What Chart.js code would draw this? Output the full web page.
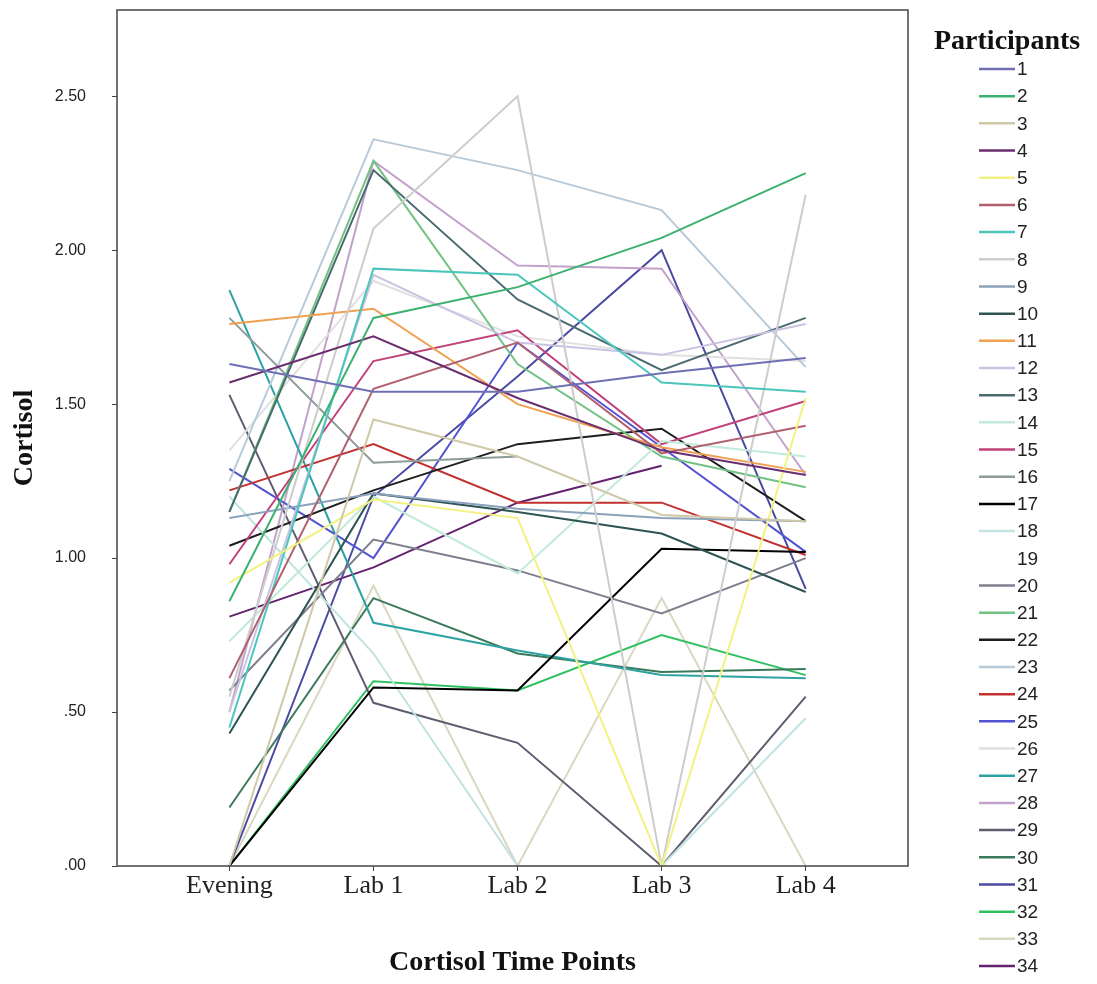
<!DOCTYPE html>
<html>
<head>
<meta charset="utf-8">
<script src="https://cdn.jsdelivr.net/npm/chart.js@4/dist/chart.umd.min.js"></script>
<style>
  html, body { margin: 0; padding: 0; background: #fff; }
  #wrap { width: 1097px; height: 984px; position: relative; }
</style>
</head>
<body>
<div id="wrap"><canvas id="grafico"></canvas></div>
<script>
// categorias do eixo X
const momentos = ['Evening', 'Lab 1', 'Lab 2', 'Lab 3', 'Lab 4'];

// ticks do eixo Y
const ticksY = [0, 0.5, 1.0, 1.5, 2.0, 2.5];
const rotulosY = ['.00', '.50', '1.00', '1.50', '2.00', '2.50'];

// valores de cortisol por participante (Evening, Lab 1, Lab 2, Lab 3, Lab 4)
const p1  = [1.63, 1.54, 1.54, 1.60, 1.65];
const p2  = [0.86, 1.78, 1.88, 2.04, 2.25];
const p3  = [0.00, 1.45, 1.33, 1.14, 1.12];
const p4  = [1.57, 1.72, 1.52, 1.35, 1.27];
const p5  = [0.92, 1.19, 1.13, 0.00, 1.52];
const p6  = [0.61, 1.55, 1.70, 1.34, 1.43];
const p7  = [0.45, 1.94, 1.92, 1.57, 1.54];
const p8  = [0.55, 2.07, 2.50, 0.00, 2.18];
const p9  = [1.13, 1.21, 1.16, 1.13, 1.12];
const p10 = [0.43, 1.21, 1.15, 1.08, 0.89];
const p11 = [1.76, 1.81, 1.50, 1.36, 1.28];
const p12 = [0.50, 1.92, 1.70, 1.66, 1.76];
const p13 = [1.15, 2.26, 1.84, 1.61, 1.78];
const p14 = [0.73, 1.20, 0.95, 1.38, 1.33];
const p15 = [0.98, 1.64, 1.74, 1.37, 1.51];
const p16 = [1.78, 1.31, 1.33, null, null];
const p17 = [0.00, 0.58, 0.57, 1.03, 1.02];
const p18 = [1.20, 0.69, 0.00, 0.00, 0.48];
const p19 = [null, null, null, null, null];
const p20 = [0.57, 1.06, 0.96, 0.82, 1.00];
const p21 = [1.15, 2.29, 1.63, 1.33, 1.23];
const p22 = [1.04, 1.22, 1.37, 1.42, 1.12];
const p23 = [1.25, 2.36, 2.26, 2.13, 1.62];
const p24 = [1.22, 1.37, 1.18, 1.18, 1.01];
const p25 = [1.29, 1.00, 1.70, 1.36, 1.02];
const p26 = [1.35, 1.90, 1.72, 1.66, 1.64];
const p27 = [1.87, 0.79, 0.70, 0.62, 0.61];
const p28 = [0.50, 2.29, 1.95, 1.94, 1.27];
const p29 = [1.53, 0.53, 0.40, 0.00, 0.55];
const p30 = [0.19, 0.87, 0.69, 0.63, 0.64];
const p31 = [0.00, 1.20, 1.59, 2.00, 0.90];
const p32 = [0.00, 0.60, 0.57, 0.75, 0.62];
const p33 = [0.00, 0.91, 0.00, 0.87, 0.00];
const p34 = [0.81, 0.97, 1.18, 1.30, null];

const participantes = [p1, p2, p3, p4, p5, p6, p7, p8, p9, p10, p11, p12, p13, p14, p15, p16, p17,
    p18, p19, p20, p21, p22, p23, p24, p25, p26, p27, p28, p29, p30, p31, p32, p33, p34];

const cores = [
    '#6f70b4', '#3cb070', '#cfc9a8', '#6a2e70', '#f2f282', '#b0606e', '#4cc6bc', '#cdcdcd',
    '#8ca2ba', '#2e5454', '#f0a050', '#c9c2e2', '#4a6a70', '#c2ead8', '#c0407a', '#8c9c9a',
    '#000000', '#c2e2e2', '#ffffff', '#7e7e8e', '#72c284', '#1e1e1e', '#b8cad8', '#c23030',
    '#5252d2', '#e0e0e0', '#2ea2a2', '#c2a2ca', '#5e5e70', '#3a7a5a', '#4a4aa2', '#30c060',
    '#d8d8c0', '#62226e'
];

const SERIF = '"Liberation Serif", "DejaVu Serif", serif';
const SANS = '"Liberation Sans", Arial, sans-serif';

const datasets = participantes.map((valores, i) => ({
    label: String(i + 1),
    data: valores.map((v, j) => ({ x: j, y: v })),
    borderColor: cores[i],
    backgroundColor: cores[i],
    borderWidth: 2,
    pointRadius: 0,
    tension: 0,
    spanGaps: false
}));

// moldura do gráfico e legenda desenhada à mão
const molduraELegenda = {
    id: 'molduraELegenda',
    afterDraw(chart) {
        const ctx = chart.ctx;
        const a = chart.chartArea;
        ctx.save();
        ctx.strokeStyle = '#444';
        ctx.lineWidth = 1.5;
        ctx.strokeRect(a.left, a.top, a.right - a.left, a.bottom - a.top);

        ctx.fillStyle = '#111';
        ctx.font = 'bold 28px ' + SERIF;
        ctx.textAlign = 'left';
        ctx.textBaseline = 'middle';
        ctx.fillText('Participants', 934, 42);

        ctx.font = '19px ' + SANS;
        const passo = (966 - 69) / 33;
        participantes.forEach((_, i) => {
            const y = 69 + i * passo;
            ctx.strokeStyle = cores[i];
            ctx.lineWidth = 2.5;
            ctx.beginPath();
            ctx.moveTo(979, y);
            ctx.lineTo(1015, y);
            ctx.stroke();
            ctx.fillStyle = '#222';
            ctx.fillText(String(i + 1), 1017, y + 1);
        });
        ctx.restore();
    }
};

new Chart(document.getElementById('grafico'), {
    type: 'line',
    data: { datasets },
    options: {
        responsive: true,
        maintainAspectRatio: false,
        animation: false,
        layout: { padding: { left: 0, right: 189, top: 10, bottom: 0 } },
        plugins: {
            legend: { display: false },
            tooltip: { enabled: false }
        },
        scales: {
            x: {
                type: 'linear',
                min: -0.78,
                max: 4.71,
                afterBuildTicks: (scale) => { scale.ticks = momentos.map((_, i) => ({ value: i })); },
                afterFit: (scale) => { scale.height = 118; scale.paddingLeft = 0; scale.paddingRight = 0; },
                grid: { drawOnChartArea: false, drawTicks: true, tickLength: 5, color: '#444' },
                border: { display: false },
                ticks: {
                    callback: (v) => momentos[v] ?? '',
                    font: { family: SERIF, size: 26 },
                    color: '#222',
                    padding: 0,
                    maxRotation: 0
                },
                title: {
                    display: true,
                    text: 'Cortisol Time Points',
                    font: { family: SERIF, size: 28, weight: 'bold' },
                    color: '#111',
                    padding: { top: 18 }
                }
            },
            y: {
                min: 0,
                max: 2.78,
                afterBuildTicks: (scale) => { scale.ticks = ticksY.map(v => ({ value: v })); },
                afterFit: (scale) => { scale.width = 117; scale.paddingTop = 0; scale.paddingBottom = 0; },
                grid: { drawOnChartArea: false, drawTicks: true, tickLength: 5, color: '#444' },
                border: { display: false },
                ticks: {
                    callback: (v) => rotulosY[ticksY.indexOf(v)] ?? '',
                    font: { family: SANS, size: 16 },
                    color: '#222',
                    padding: 26
                },
                title: {
                    display: true,
                    text: 'Cortisol',
                    font: { family: SERIF, size: 28, weight: 'bold' },
                    color: '#111',
                    padding: { top: 8, bottom: 0 }
                }
            }
        }
    },
    plugins: [molduraELegenda]
});
</script>
</body>
</html>
